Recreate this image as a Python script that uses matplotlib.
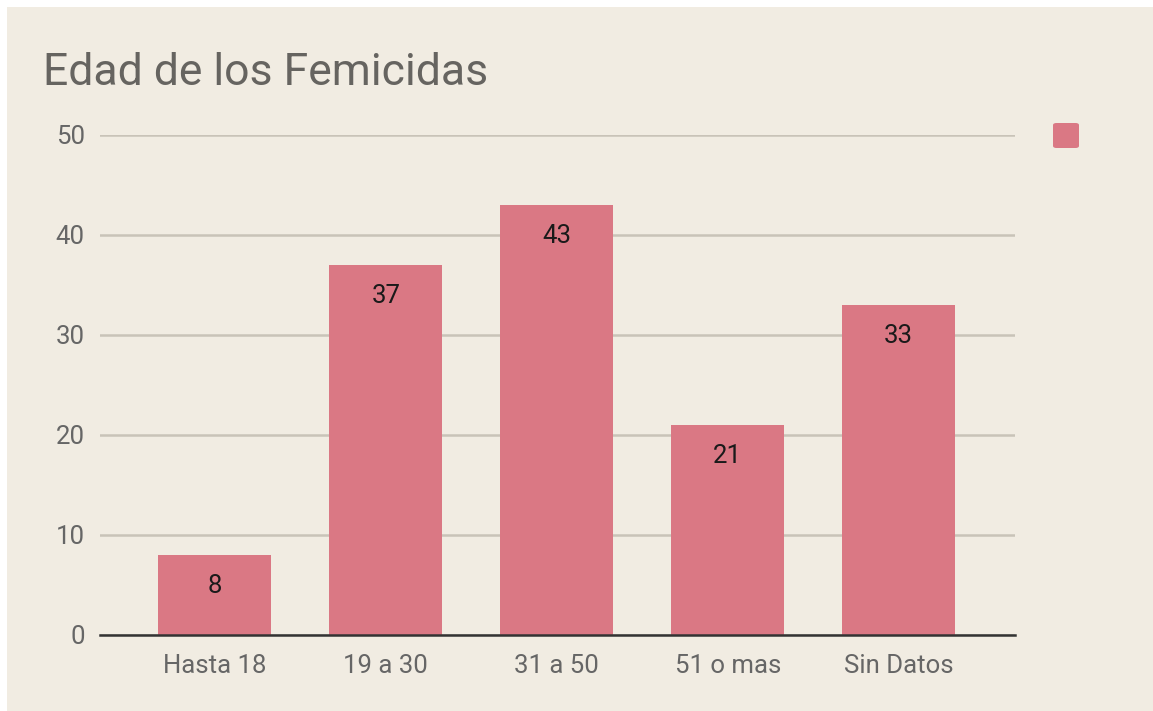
import numpy as np
import matplotlib.pyplot as plt
from matplotlib.patches import Rectangle, FancyBboxPatch

categorias = ['Hasta 18', '19 a 30', '31 a 50', '51 o mas', 'Sin Datos']
valores = [8, 37, 43, 21, 33]
ticks_y = [0, 10, 20, 30, 40, 50]

fondo = '#f1ece2'
rosa = '#da7884'

plt.rcParams['font.family'] = ['Roboto', 'DejaVu Sans']

W, H = 1153, 711
fig = plt.figure(figsize=(W / 100, H / 100), dpi=100)
fig.patch.set_facecolor('white')
fig.patches.append(Rectangle((7 / W, -0.01), 1.01 - 7 / W, 1.01 - 7 / H, transform=fig.transFigure,
                             facecolor=fondo, edgecolor='none', zorder=-5))

ax = fig.add_axes([100 / W, 1 - 635 / H, 915 / W, 500 / H])
ax.set_facecolor('none')

x = np.arange(len(categorias))
barras = ax.bar(x, valores, width=0.66, color=rosa, zorder=3)
for xi, v in zip(x, valores):
    ax.annotate(str(v), (xi, v), xytext=(0, -22.5), textcoords='offset points',
                ha='center', va='center', fontsize=18.5, color='#1a1a1a', zorder=5)

ax.set_xlim(-0.672, 4.68)
ax.set_ylim(0, 50)
ax.set_yticks(ticks_y)
ax.set_xticks(x)
ax.set_xticklabels(categorias)
ax.tick_params(axis='both', length=0, labelsize=18.5, labelcolor='#666666')
ax.tick_params(axis='y', pad=11)
ax.tick_params(axis='x', pad=14)
for s in ax.spines.values():
    s.set_visible(False)
ax.grid(axis='y', color='#c9c3b8', linewidth=1.8, zorder=1)
ax.axhline(0, color='#333333', linewidth=1.8, zorder=4, clip_on=False)

fig.text(43 / W, 1 - 85 / H, 'Edad de los Femicidas', fontsize=32, color='#666460',
         ha='left', va='baseline')

fig.patches.append(FancyBboxPatch((1053 / W, 1 - 148 / H), 26 / W, 25 / H,
                                  boxstyle='round,pad=0,rounding_size=0.003',
                                  transform=fig.transFigure, facecolor=rosa,
                                  edgecolor='none', zorder=2))

plt.savefig('out.png', dpi=100, facecolor=fig.get_facecolor())
